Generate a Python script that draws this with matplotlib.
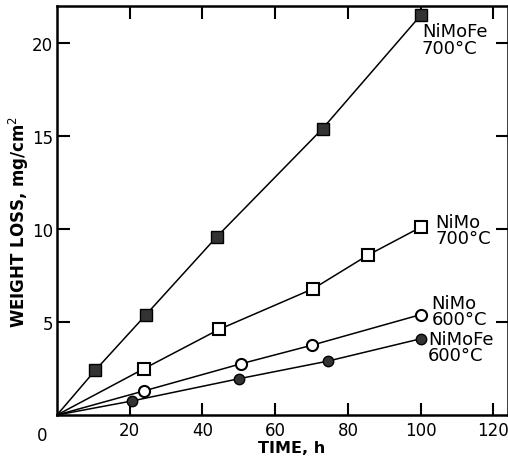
import matplotlib
matplotlib.use("Agg")
import matplotlib.pyplot as plt

# Data
nimofe700_t = [0, 10.5, 24.5, 44, 73, 100]
nimofe700_w = [0, 2.4, 5.4, 9.6, 15.4, 21.5]

nimo700_t = [0, 24, 44.5, 70.5, 85.5, 100]
nimo700_w = [0, 2.5, 4.6, 6.8, 8.6, 10.1]

nimo600_t = [0, 24, 50.5, 70, 100]
nimo600_w = [0, 1.3, 2.75, 3.75, 5.4]

nimofe600_t = [0, 20.5, 50, 74.5, 100]
nimofe600_w = [0, 0.75, 1.95, 2.9, 4.1]

xticks = [20, 40, 60, 80, 100, 120]
yticks = [5, 10, 15, 20]

W, H = 508, 464
fig = plt.figure(figsize=(W / 100, H / 100), dpi=100)
L, R, B, T = 57, 508, 416, 7
ax = fig.add_axes([L / W, 1 - B / H, (R - L) / W, (B - T) / H])

lw = 1.1
ax.plot(nimofe700_t, nimofe700_w, color="black", lw=lw, marker="s", ms=9,
        mfc="#333333", mec="black", markevery=list(range(1, len(nimofe700_t))), clip_on=False)
ax.plot(nimo700_t, nimo700_w, color="black", lw=lw, marker="s", ms=8.5,
        mfc="white", mec="black", mew=1.5, markevery=list(range(1, len(nimo700_t))))
ax.plot(nimo600_t, nimo600_w, color="black", lw=lw, marker="o", ms=8,
        mfc="white", mec="black", mew=1.5, markevery=list(range(1, len(nimo600_t))))
ax.plot(nimofe600_t, nimofe600_w, color="black", lw=lw, marker="o", ms=7.5,
        mfc="#333333", mec="black", markevery=list(range(1, len(nimofe600_t))))

ax.set_xlim(0, 124)
ax.set_ylim(0, 22.0)
ax.set_xticks(xticks)
ax.set_yticks(yticks)
ax.tick_params(direction="in", length=9, width=1.5, labelsize=12, pad=4,
               top=True, right=True)
ax.tick_params(axis="y", pad=3)
for s in ax.spines.values():
    s.set_linewidth(1.8)

ax.text(-0.022, -0.026, "0", transform=ax.transAxes, ha="right", va="top", fontsize=12)
ax.set_xlabel("TIME, h", fontsize=11.5, fontweight="bold")
ax.xaxis.set_label_coords(0.52, -0.061)
ax.set_ylabel("WEIGHT LOSS, mg/cm$^2$", fontsize=12, fontweight="bold")
ax.yaxis.set_label_coords(-0.058, 0.474)

lab = dict(fontsize=13, linespacing=0.9, va="center", ha="left")
ax.text(100.3, 20.2, "NiMoFe\n700°C", **lab)
ax.text(104, 9.95, "NiMo\n700°C", **lab)
ax.text(103, 5.6, "NiMo\n600°C", **lab)
ax.text(102, 3.65, "NiMoFe\n600°C", **lab)

fig.savefig("out.png", dpi=100)
